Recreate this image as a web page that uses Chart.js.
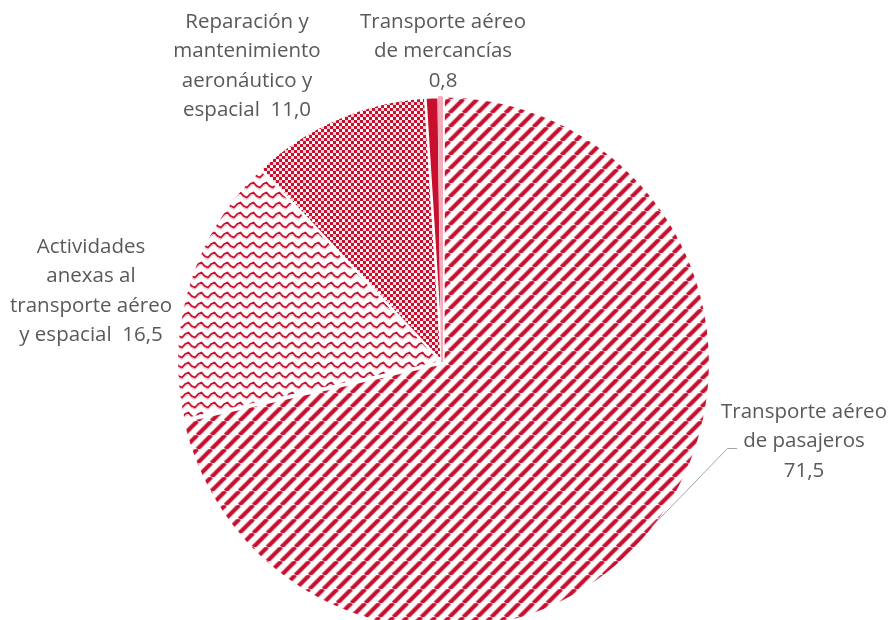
<!DOCTYPE html>
<html>
<head>
<meta charset="utf-8">
<script src="https://cdn.jsdelivr.net/npm/chart.js@4.4.1/dist/chart.umd.min.js"></script>
<style>
  html, body { margin: 0; padding: 0; background: #ffffff; }
  #wrap { width: 891px; height: 620px; position: relative; }
</style>
</head>
<body>
<div id="wrap"><canvas id="pieChart"></canvas></div>
<script>
// Share of the sector (%), clockwise from 12 o'clock
const categories = [
  ["Transporte aéreo", "de pasajeros"],
  ["Actividades", "anexas al", "transporte aéreo", "y espacial"],
  ["Reparación y", "mantenimiento", "aeronáutico y", "espacial"],
  ["Transporte aéreo", "de mercancías"],
  [""],
];
const shares = [71.5, 16.5, 11.0, 0.8, 0.2];
const valueOnOwnLine = [true, false, false, true, false];

const RED = "#c8102e";
const PINK = "#f4adbb";
const TEXT = "#595959";

document.addEventListener("DOMContentLoaded", function () {
  initializePieChart();
});

function tile(w, h, draw) {
  const c = document.createElement("canvas");
  c.width = w;
  c.height = h;
  const x = c.getContext("2d");
  x.fillStyle = "#ffffff";
  x.fillRect(0, 0, w, h);
  draw(x);
  return x.createPattern(c, "repeat");
}

function stripePattern() {
  return tile(14, 14, function (x) {
    x.strokeStyle = RED;
    x.lineWidth = 4.2;
    x.beginPath();
    for (let k = -1; k <= 1; k++) {
      x.moveTo(k * 14, 14);
      x.lineTo(k * 14 + 14, 0);
    }
    x.stroke();
  });
}

function wavePattern() {
  return tile(13, 10, function (x) {
    x.strokeStyle = RED;
    x.lineWidth = 1.8;
    x.beginPath();
    x.moveTo(-3.25, 6);
    x.lineTo(0, 7.5);
    x.lineTo(3.25, 4);
    x.lineTo(6.5, 2.5);
    x.lineTo(9.75, 6);
    x.lineTo(13, 7.5);
    x.lineTo(16.25, 4);
    x.stroke();
    x.strokeStyle = "rgba(200,16,46,0.3)";
    x.lineWidth = 1;
    x.beginPath();
    x.moveTo(0, 9.5);
    x.lineTo(3.25, 6);
    x.lineTo(6.5, 4.5);
    x.lineTo(9.75, 8);
    x.lineTo(13, 9.5);
    x.stroke();
  });
}

function checkerPattern() {
  return tile(6, 6, function (x) {
    x.fillStyle = RED;
    x.fillRect(0, 0, 3, 3);
    x.fillRect(3, 3, 3, 3);
    x.fillStyle = "rgba(200,16,46,0.2)";
    x.fillRect(3, 0, 3, 3);
  });
}

function fmt(v) {
  return v.toFixed(1).replace(".", ",");
}

// label anchors (centre x, first line y) and leader line for the big slice
const labelSpots = [
  { x: 804, y: 412 },
  { x: 91, y: 247 },
  { x: 247, y: 22 },
  { x: 443, y: 22 },
  null,
];
const LINE_H = 29.5;

const sliceLabels = {
  id: "sliceLabels",
  afterDatasetsDraw(chart) {
    const ctx = chart.ctx;
    ctx.save();

    // leader line to "Transporte aéreo de pasajeros"
    ctx.strokeStyle = "#a6a6a6";
    ctx.lineWidth = 1;
    ctx.beginPath();
    ctx.moveTo(651.5, 527);
    ctx.lineTo(727.5, 448.5);
    ctx.lineTo(737, 448.5);
    ctx.stroke();

    // fit the font so "Transporte aéreo" is as wide as in the original
    ctx.font = "20px 'Open Sans'";
    const size = 20 * 166 / ctx.measureText("Transporte aéreo").width;
    ctx.font = size.toFixed(2) + "px 'Open Sans'";
    ctx.fillStyle = TEXT;
    ctx.textAlign = "center";
    ctx.textBaseline = "middle";
    categories.forEach((lines, i) => {
      const spot = labelSpots[i];
      if (!spot) return;
      const out = lines.slice();
      if (valueOnOwnLine[i]) out.push(fmt(shares[i]));
      else out[out.length - 1] += "  " + fmt(shares[i]);
      out.forEach((t, j) => ctx.fillText(t, spot.x, spot.y + j * LINE_H));
    });
    ctx.restore();
  },
};

function initializePieChart() {
  const ctx = document.getElementById("pieChart");
  if (!ctx) return;

  new Chart(ctx, {
    type: "pie",
    data: {
      labels: categories.map((l) => l.join(" ")),
      datasets: [
        {
          data: shares,
          backgroundColor: [stripePattern(), wavePattern(), checkerPattern(), RED, PINK],
          borderColor: ["#ffffff", "#ffffff", "#ffffff", "#ffffff", PINK],
          borderWidth: [2.5, 2.5, 2.5, 2.5, 2],
          offset: [7, 0, 0, 0, 0],
          clip: false,
        },
      ],
    },
    options: {
      responsive: true,
      maintainAspectRatio: false,
      animation: false,
      events: [],
      radius: 265,
      layout: {
        padding: { top: 104, bottom: 0, left: 0, right: 7 },
      },
      plugins: {
        legend: { display: false },
        tooltip: { enabled: false },
      },
    },
    plugins: [sliceLabels],
  });
}
</script>
</body>
</html>
